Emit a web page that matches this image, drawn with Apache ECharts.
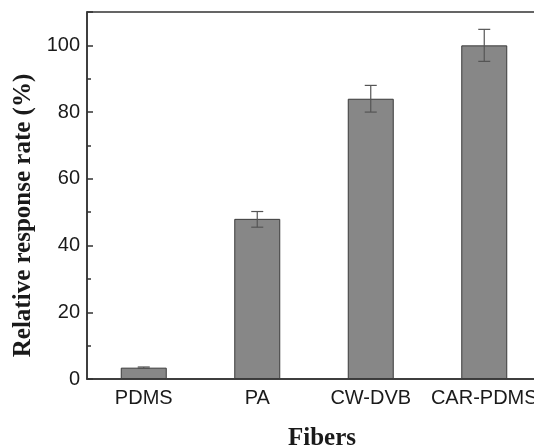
<!DOCTYPE html>
<html>
<head>
<meta charset="utf-8">
<script src="https://cdn.jsdelivr.net/npm/echarts@6/dist/echarts.min.js"></script>
<style>
html, body { margin: 0; padding: 0; background: #fff; }
#main { width: 534px; height: 446px; }
</style>
</head>
<body>
<div id="main"></div>
<script>
// fibre types and relative response (%)
var fibers = ['PDMS', 'PA', 'CW-DVB', 'CAR-PDMS'];
var response = [3.4, 48, 84, 100];
var errLow = [3.2, 45.5, 80, 95.2];
var errHigh = [3.6, 50.2, 88, 104.8];
var yTicks = [0, 20, 40, 60, 80, 100];

var errData = fibers.map(function (f, i) { return [i, errLow[i], errHigh[i]]; });

var myChart = echarts.init(document.getElementById('main'));

var option = {
    backgroundColor: '#fff',
    animation: false,
    grid: {
        left: 87, top: 12, right: -7, bottom: 67,
        outerBoundsMode: 'none',
        containLabel: false,
        show: true, borderColor: '#333', borderWidth: 1.5
    },
    xAxis: [
        {
            type: 'category',
            data: fibers,
            axisLine: { lineStyle: { color: '#333', width: 1.5 } },
            axisTick: { inside: true, alignWithLabel: true, interval: 0, length: 6, lineStyle: { color: '#333', width: 1.5 } },
            axisLabel: { interval: 0, hideOverlap: false, color: '#1a1a1a', fontFamily: 'Liberation Sans', fontSize: 20, margin: 9 },
            name: 'Fibers',
            nameLocation: 'middle',
            nameGap: 47,
            nameTextStyle: { fontFamily: 'Liberation Serif', fontWeight: 'bold', fontSize: 25, color: '#1a1a1a', padding: [0, 0, 0, 16] }
        },
        {
            type: 'category',
            data: fibers,
            position: 'bottom',
            axisLine: { show: false },
            axisTick: { inside: true, interval: 0, length: 4, lineStyle: { color: '#333', width: 1.5 } },
            axisLabel: { show: false }
        }
    ],
    yAxis: [
        {
            type: 'value',
            min: 0, max: 110, interval: 20,
            splitLine: { show: false },
            axisLine: { show: true, lineStyle: { color: '#333', width: 1.5 } },
            axisTick: { show: true, inside: true, length: 6, lineStyle: { color: '#333', width: 1.5 } },
            axisLabel: {
                color: '#1a1a1a', fontFamily: 'Liberation Sans', fontSize: 20, margin: 7,
                formatter: function (v) { return yTicks.indexOf(v) >= 0 ? v : ''; }
            },
            name: 'Relative response rate (%)',
            nameLocation: 'middle',
            nameGap: 47,
            nameTextStyle: { fontFamily: 'Liberation Serif', fontWeight: 'bold', fontSize: 25, color: '#1a1a1a', padding: [0, 40, 0, 0] }
        },
        {
            type: 'value',
            min: 0, max: 110, interval: 10,
            position: 'left',
            splitLine: { show: false },
            axisLine: { show: false },
            axisTick: { show: true, inside: true, length: 4, lineStyle: { color: '#333', width: 1.5 } },
            axisLabel: { show: false }
        }
    ],
    series: [
        {
            type: 'bar',
            data: response,
            barWidth: 46,
            itemStyle: { color: '#878787', borderColor: '#3a3a3a', borderWidth: 1 }
        },
        {
            type: 'custom',
            data: errData,
            z: 5,
            renderItem: function (params, api) {
                var lo = api.coord([api.value(0), api.value(1)]);
                var hi = api.coord([api.value(0), api.value(2)]);
                var hw = 6;
                var st = { stroke: '#555', lineWidth: 1.2 };
                return {
                    type: 'group',
                    children: [
                        { type: 'line', shape: { x1: lo[0], y1: lo[1], x2: hi[0], y2: hi[1] }, style: st },
                        { type: 'line', shape: { x1: hi[0] - hw, y1: hi[1], x2: hi[0] + hw, y2: hi[1] }, style: st },
                        { type: 'line', shape: { x1: lo[0] - hw, y1: lo[1], x2: lo[0] + hw, y2: lo[1] }, style: st }
                    ]
                };
            }
        }
    ]
};

myChart.setOption(option);
</script>
</body>
</html>
